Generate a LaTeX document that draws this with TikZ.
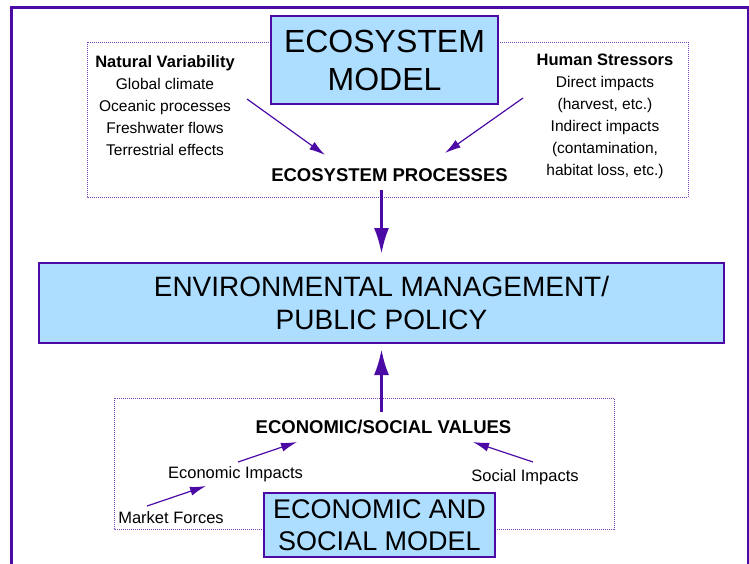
\documentclass[tikz,border=0pt]{standalone}
\usepackage{fontspec}
\setmainfont{Liberation Sans}
\usepackage{tikz}
\usetikzlibrary{arrows.meta}
\definecolor{modelpurple}{RGB}{75,10,165}
\definecolor{modelblue}{RGB}{173,222,255}
\colorlet{lightpurple}{modelpurple!75!white}

\begin{document}
\begin{tikzpicture}[x=1pt,y=-1pt,
    modelbox/.style={draw=modelpurple,line width=2pt,fill=modelblue,inner sep=0pt,align=center},
    groupbox/.style={draw=lightpurple,line width=1pt,densely dotted},
    listtext/.style={font=\fontsize{15.5}{22}\selectfont,align=center,inner sep=2pt},
    smalltext/.style={font=\fontsize{16.5}{20}\selectfont,inner sep=2pt},
    headtext/.style={font=\fontsize{18.5}{22}\selectfont\bfseries,inner sep=2pt},
    thinarrow/.style={draw=modelpurple,line width=1.2pt,-{Latex[length=16pt,width=9pt]}},
    thickarrow/.style={draw=modelpurple,line width=3pt,-{Latex[length=26pt,width=15pt]}}]

      \useasboundingbox (0,0) rectangle (749,563);

      % frame, open at the bottom
      \draw [modelpurple,line width=3pt] (11,575) -- (11,7) -- (748,7) -- (748,575);

      % dotted groups
      \draw [groupbox] (87,42) rectangle (688,197);
      \draw [groupbox] (114,398) rectangle (614,529);

      % ecosystem side
      \node [modelbox,minimum width=227pt,minimum height=88pt,font=\fontsize{32}{38}\selectfont]
        (ecomodel) at (384.5,60) {ECOSYSTEM\\MODEL};
      \node [listtext] (natvar) at (165,106)
        {{\fontsize{16.5}{22}\selectfont\bfseries Natural Variability}\\Global climate\\Oceanic processes\\Freshwater flows\\Terrestrial effects};
      \node [listtext] (humstr) at (605,116)
        {{\fontsize{16.5}{22}\selectfont\bfseries Human Stressors}\\Direct impacts\\(harvest, etc.)\\Indirect impacts\\(contamination,\\habitat loss, etc.)};
      \node [headtext] (ecoproc) at (389.5,175) {ECOSYSTEM PROCESSES};

      \coordinate (nvtail) at (247,99);
      \coordinate (nvtip) at (325,155);
      \coordinate (hstail) at (523,98);
      \coordinate (hstip) at (445,153);
      \draw [thinarrow] (nvtail) -- (nvtip);
      \draw [thinarrow] (hstail) -- (hstip);

      % management box
      \node [modelbox,minimum width=685pt,minimum height=80pt,font=\fontsize{28}{33}\selectfont]
        (envbox) at (381.5,303) {ENVIRONMENTAL MANAGEMENT/\\PUBLIC POLICY};

      % economic side
      \node [headtext] (econval) at (383.5,427) {ECONOMIC/SOCIAL VALUES};
      \node [smalltext] (econimp) at (235.5,474) {Economic Impacts};
      \node [smalltext] (market) at (171,518) {Market Forces};
      \node [smalltext] (socimp) at (525,477) {Social Impacts};
      \node [modelbox,minimum width=231pt,minimum height=64pt,font=\fontsize{27}{32}\selectfont]
        (econmodel) at (379.5,525) {ECONOMIC AND\\SOCIAL MODEL};

      \coordinate (mftail) at (147,506);
      \coordinate (mftip) at (206,486);
      \coordinate (eitail) at (238,462);
      \coordinate (eitip) at (297,442);
      \coordinate (sitail) at (533,462);
      \coordinate (sitip) at (473,442);
      \draw [thinarrow] (mftail) -- (mftip);
      \draw [thinarrow] (eitail) -- (eitip);
      \draw [thinarrow] (sitail) -- (sitip);

      % into and out of the management box
      \draw [thickarrow,shorten <=6pt,shorten >=8pt] (envbox.north |- ecoproc.south) -- (envbox.north);
      \draw [thickarrow,shorten <=6pt,shorten >=5pt] (envbox.south |- econval.north) -- (envbox.south);

    \end{tikzpicture}
\end{document}
